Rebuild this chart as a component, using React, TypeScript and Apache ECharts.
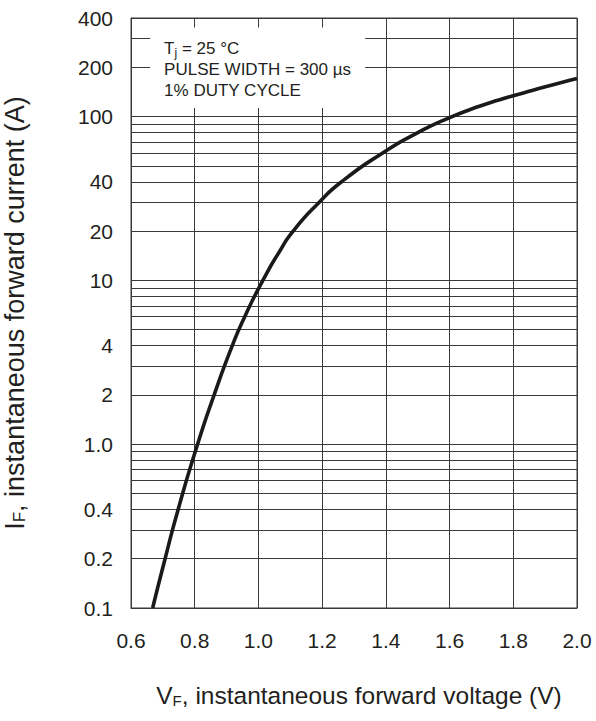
import { useEffect, useRef } from 'react';
import * as echarts from 'echarts';

// Forward characteristic: instantaneous forward voltage (V) vs current (A)
const voltage = [
  0.668, 0.707, 0.748, 0.809, 0.861, 0.918, 0.957, 1.014, 1.066, 1.109,
  1.191, 1.261, 1.39, 1.496, 1.597, 1.696, 1.794, 1.895, 2.0,
];
const current = [
  0.1, 0.2, 0.4, 1.0, 2, 4, 6, 10, 15, 20,
  30, 40, 60, 79, 98, 116, 133, 151, 171,
];

// Labelled current ticks and their texts
const yTickValues = [0.1, 0.2, 0.4, 1, 2, 4, 10, 20, 40, 100, 200, 400];
const yTickLabels = ['0.1', '0.2', '0.4', '1.0', '2', '4', '10', '20', '40', '100', '200', '400'];

// Horizontal log grid: every 1..9 step in each decade
const gridCurrents = [
  0.1, 0.2, 0.3, 0.4, 0.5, 0.6, 0.7, 0.8, 0.9,
  1, 2, 3, 4, 5, 6, 7, 8, 9,
  10, 20, 30, 40, 50, 60, 70, 80, 90,
  100, 200, 300, 400,
];

// Test-condition note box, in data units
const noteBox = { x0: 0.66, x1: 1.335, y0: 113, y1: 350 };

const FONT = 'Liberation Sans, Arial, Helvetica, sans-serif';
const INK = '#231f20';
const GRID = '#3a3a3a';

export default function App() {
  const ref = useRef<HTMLDivElement>(null);

  useEffect(() => {
    document.body.style.margin = '0';
    const el = ref.current;
    if (!el) return;
    const chart = echarts.init(el, null, { renderer: 'svg' });

    const data = voltage.map((v, i) => [v, current[i]]);
    const sub = (size: number) => ({
      fontSize: size,
      fontFamily: FONT,
      color: INK,
      verticalAlign: 'bottom',
      lineHeight: size,
    });

    chart.setOption({
      animation: false,
      backgroundColor: '#ffffff',
      textStyle: { fontFamily: FONT },
      grid: {
        left: 131,
        right: 19,
        top: 18,
        bottom: 113,
        outerBoundsMode: 'none',
        containLabel: false,
        show: true,
        borderColor: GRID,
        borderWidth: 1,
        backgroundColor: 'transparent',
      },
      xAxis: {
        type: 'value',
        min: 0.6,
        max: 2.0,
        interval: 0.2,
        axisLine: { show: true, lineStyle: { color: GRID, width: 1 } },
        axisTick: { show: false },
        axisLabel: {
          fontSize: 21,
          color: INK,
          fontFamily: FONT,
          margin: 22,
          formatter: (v: number) => v.toFixed(1),
        },
        splitLine: { show: true, lineStyle: { color: GRID, width: 1 } },
        name: 'V{sub|F}, instantaneous forward voltage (V)',
        nameLocation: 'middle',
        nameGap: 75,
        nameTextStyle: {
          fontSize: 24.5,
          color: INK,
          fontFamily: FONT,
          padding: [0, 0, 0, 10],
          rich: { sub: sub(15) },
        },
      },
      yAxis: {
        type: 'log',
        logBase: 10,
        min: 0.1,
        max: 400,
        axisLine: { show: true, lineStyle: { color: GRID, width: 1 } },
        axisTick: { show: false },
        splitLine: { show: false },
        minorSplitLine: { show: false },
        axisLabel: {
          customValues: yTickValues,
          fontSize: 21,
          color: INK,
          fontFamily: FONT,
          margin: 18,
          formatter: (v: number) => {
            const i = yTickValues.findIndex((t) => Math.abs(t - v) / t < 1e-6);
            return i >= 0 ? yTickLabels[i] : '';
          },
        },
        name: 'I{sub|F}, instantaneous forward current (A)',
        nameLocation: 'middle',
        nameRotate: 90,
        nameGap: 103,
        nameTextStyle: {
          fontSize: 27,
          color: INK,
          fontFamily: FONT,
          rich: { sub: sub(17) },
        },
      },
      series: [
        {
          type: 'line',
          z: 3,
          data,
          smooth: 0.6,
          showSymbol: false,
          symbol: 'none',
          silent: true,
          lineStyle: { color: '#1a1a1a', width: 3.6 },
          markLine: {
            z: 1,
            silent: true,
            symbol: ['none', 'none'],
            label: { show: false },
            lineStyle: { color: GRID, width: 1, type: 'solid' },
            emphasis: { disabled: true },
            data: gridCurrents.map((v) => ({ yAxis: v })),
          },
          markArea: {
            z: 2,
            silent: true,
            itemStyle: { color: '#ffffff', borderWidth: 0 },
            label: {
              show: true,
              position: 'insideTopLeft',
              distance: 0,
              padding: [11, 0, 0, 14],
              formatter: '{a|T}{j|j}{a| = 25 °C}\n{a|PULSE WIDTH = 300 µs}\n{a|1% DUTY CYCLE}',
              rich: {
                a: { fontSize: 17, fontFamily: FONT, color: INK, lineHeight: 21 },
                j: { fontSize: 12, fontFamily: FONT, color: INK, lineHeight: 12, verticalAlign: 'bottom' },
              },
            },
            data: [
              [
                { coord: [noteBox.x0, noteBox.y1] },
                { coord: [noteBox.x1, noteBox.y0] },
              ],
            ],
          },
        },
      ],
    });

    return () => chart.dispose();
  }, []);

  return <div ref={ref} style={{ width: 596, height: 721 }} />;
}
